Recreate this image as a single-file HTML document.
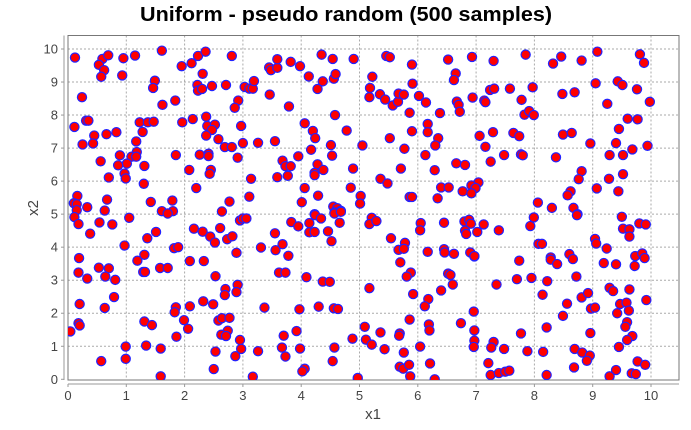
<!DOCTYPE html>
<html><head><meta charset="utf-8"><style>
html,body{margin:0;padding:0;background:#fff;}
svg{display:block;font-family:"Liberation Sans",sans-serif;}
</style></head><body>
<svg id="chart" width="691" height="430" viewBox="0 0 691 430" xmlns="http://www.w3.org/2000/svg">
<text x="346" y="21" text-anchor="middle" font-size="20" font-weight="bold" fill="#000" textLength="412" lengthAdjust="spacingAndGlyphs">Uniform - pseudo random (500 samples)</text>
<g id="grid"></g>
<rect x="68" y="35.5" width="611" height="344.5" fill="none" stroke="#777" stroke-width="1"/>
<g id="axes"></g>
<g id="points"></g>
<text x="373" y="419" text-anchor="middle" font-size="15" fill="#444">x1</text>
<text x="38" y="208" text-anchor="middle" font-size="15" fill="#444" transform="rotate(-90 38 208)">x2</text>
</svg>
<script>
const xTicks=[0,1,2,3,4,5,6,7,8,9,10];
const yTicks=[0,1,2,3,4,5,6,7,8,9,10];
const xs=[.12,.59,.69,.53,.62,.57,.95,1.15,1.61,.93,1.49,1.46,.24,1.62,1.84,1.95,2.12,2.23,2.36,2.31,2.81,2.22,2.23,2.30,2.47,2.71,3.03,3.11,3.17,3.19,2.92,2.86,.11,.31,.35,.45,.25,.43,.66,.83,1.23,1.37,1.47,1.28,1.17,1.96,2.14,2.37,2.39,2.52,2.47,2.37,2.58,2.69,2.81,2.97,3.0,3.26,2.91,.89,1.18,1.09,1.17,1.01,.86,1.31,.56,.97,.99,.70,1.30,1.85,2.26,2.41,2.41,2.08,2.45,2.43,2.20,3.14,3.11,2.77,2.64,.16,.10,.15,.15,.33,.67,.63,1.42,1.79,1.61,1.80,
3.45,3.48,3.59,3.59,3.82,3.98,4.35,4.54,4.90,5.46,5.52,5.90,6.52,6.93,4.13,4.37,4.56,4.59,4.28,5.22,5.91,6.65,6.62,3.46,3.79,5.18,5.17,5.35,5.44,5.57,5.66,5.67,5.76,6.02,6.14,6.67,6.70,6.72,6.94,4.58,4.06,4.20,4.24,4.78,5.86,6.38,6.17,6.17,5.90,5.52,6.35,6.30,3.55,4.51,5.05,4.17,5.77,3.95,4.53,3.68,3.73,3.82,4.28,4.38,4.23,4.23,3.59,3.77,4.89,5.71,6.13,6.29,6.66,6.81,5.36,5.48,4.06,4.85,4.29,5.02,5.01,4.01,4.55,4.62,4.68,4.57,4.23,5.86,5.90,6.34,6.40,6.53,6.77,
7.30,7.85,8.32,8.46,8.81,9.08,9.81,9.88,7.24,7.31,7.58,7.97,7.14,7.16,7.78,8.48,8.69,9.05,9.43,9.51,9.76,9.98,9.25,7.83,7.91,7.99,9.60,9.77,7.06,7.29,7.64,7.74,8.49,8.64,9.45,8.96,9.40,9.68,9.94,7.16,7.48,7.77,7.80,7.25,8.37,9.29,9.52,8.81,8.76,9.28,9.52,9.07,9.44,7.04,6.92,6.99,6.92,8.62,8.57,8.06,8.30,8.67,8.74,
.11,.18,.54,.76,1.05,.38,.97,1.36,1.51,1.71,2.16,2.31,2.44,2.52,2.61,2.73,2.82,2.95,3.0,3.06,2.89,3.31,1.82,1.89,.19,1.31,1.19,.18,.33,.53,.70,.64,.81,1.29,1.32,1.58,1.71,2.09,2.33,2.53,2.91,2.70,2.69,2.89,.20,.63,.79,1.85,1.83,2.09,2.32,2.49,3.37,.18,.20,.04,1.31,1.44,1.99,2.06,1.86,2.58,2.64,2.77,2.74,2.63,2.71,2.95,.99,1.34,1.59,.99,.57,2.53,2.97,2.87,3.26,2.50,1.59,3.17,
3.83,3.95,4.14,4.14,4.23,4.24,4.34,4.57,4.68,4.66,4.46,4.52,3.55,3.68,3.56,3.78,5.21,5.17,5.29,5.54,5.78,5.67,5.76,5.70,5.88,5.81,6.05,6.04,6.45,6.80,6.88,6.91,6.81,6.83,6.17,6.45,6.46,6.62,6.90,6.97,6.52,6.56,6.60,3.62,3.73,4.09,4.37,4.49,5.17,5.92,6.40,6.18,6.12,3.97,4.30,4.56,4.63,6.96,5.86,5.09,6.19,6.20,6.74,6.97,3.70,3.92,4.88,5.11,5.36,5.69,5.68,6.97,3.67,3.98,3.73,4.57,5.21,5.43,5.76,6.04,6.96,4.54,4.06,4.02,5.69,5.75,5.85,6.21,4.97,5.87,6.29,
7.13,7.02,7.39,7.93,7.99,8.73,9.50,9.52,9.63,9.63,9.80,9.91,9.04,9.06,9.24,8.07,8.13,6.97,7.74,8.28,8.28,8.39,8.60,8.66,9.19,9.40,9.73,9.85,9.89,9.72,7.35,7.70,7.95,8.22,8.72,8.14,8.56,8.81,8.92,8.97,9.04,8.49,9.29,9.35,9.63,9.92,9.47,9.58,9.62,9.42,8.21,7.77,8.96,9.59,9.56,9.68,9.59,7.30,7.26,7.48,7.88,8.15,8.69,8.82,8.95,8.90,9.45,7.21,8.68,9.77,9.90,7.25,7.39,7.50,7.57,8.21,9.40,9.29,9.67,9.74];
const ys=[9.74,9.70,9.81,9.52,9.36,9.16,9.72,9.80,9.95,9.20,9.04,8.82,8.54,8.31,8.44,9.48,9.57,9.79,9.92,9.25,9.79,8.91,8.74,8.79,8.88,8.91,8.85,8.80,8.80,9.03,8.44,8.22,7.64,7.83,7.83,7.38,7.11,7.14,7.42,7.48,7.78,7.78,7.80,7.49,7.20,7.78,7.88,7.95,7.67,7.71,7.55,7.38,7.27,7.03,7.03,7.67,7.15,7.16,6.71,6.78,6.88,6.74,6.74,6.53,6.48,6.46,6.60,6.23,6.08,6.11,5.92,6.79,6.80,6.83,6.76,6.34,6.34,6.22,5.79,6.07,5.53,5.38,5.08,5.55,5.33,5.30,5.12,5.21,5.44,5.11,5.37,5.41,5.09,5.09,
9.44,9.36,9.43,9.69,9.61,9.48,9.83,9.70,9.70,9.79,9.75,9.53,9.68,9.76,9.17,9.02,9.10,9.24,8.79,9.16,8.95,9.26,9.06,8.62,8.26,8.82,8.54,8.63,8.47,8.29,8.40,8.65,8.62,8.58,8.38,8.41,8.31,8.10,8.53,8.00,7.75,7.52,7.30,7.53,8.07,8.06,7.73,7.48,7.51,7.30,7.30,7.08,7.21,7.09,7.08,6.95,6.98,6.75,6.77,6.62,6.45,6.45,6.51,6.34,6.25,6.18,6.12,6.16,6.38,6.38,6.79,6.33,6.54,6.49,6.07,5.93,5.79,5.80,5.56,5.55,5.32,5.36,5.23,5.18,5.10,5.05,5.00,5.52,5.52,5.48,5.81,5.81,5.69,
9.64,9.83,9.56,9.77,9.65,9.92,9.84,9.58,8.76,8.80,8.80,8.84,8.44,8.39,8.46,8.64,8.69,8.96,9.02,8.91,8.78,8.40,8.34,8.01,8.12,8.00,7.89,7.87,7.37,7.48,7.46,7.36,7.41,7.46,7.58,7.14,7.15,6.96,7.07,7.04,6.79,6.81,6.78,6.59,6.72,6.79,6.79,6.30,6.06,6.07,6.21,5.78,5.69,5.96,5.87,5.79,5.63,5.69,5.57,5.35,5.19,5.19,5.00,
4.91,4.70,4.75,4.69,4.89,4.41,4.05,4.27,4.46,5.02,4.56,4.47,4.32,4.14,4.58,4.24,4.33,4.81,4.87,4.87,3.83,3.99,3.97,4.00,3.67,3.77,3.59,3.23,3.05,3.38,3.36,3.11,3.01,3.25,3.25,3.37,3.37,3.58,3.58,3.12,2.86,2.73,2.55,2.64,2.28,2.16,2.49,2.18,2.03,2.21,2.36,2.27,2.17,1.70,1.63,1.45,1.75,1.64,1.79,1.53,1.29,1.78,1.85,1.86,1.47,1.35,1.31,1.19,.99,1.02,.93,.62,.55,.84,.92,.70,.85,.31,.09,.08,
4.76,4.63,4.73,4.45,4.46,4.97,4.87,5.02,5.07,4.74,4.48,4.18,4.42,4.09,3.91,3.74,4.89,4.70,4.79,4.27,4.13,3.92,3.95,3.54,3.23,3.11,4.73,4.51,4.74,4.78,4.83,4.71,4.50,4.40,3.86,3.94,3.84,3.80,3.84,3.72,3.20,3.16,2.87,3.23,3.23,3.09,2.96,2.95,2.76,2.58,2.69,2.43,2.21,2.12,2.20,2.15,2.13,2.05,1.81,1.59,1.66,1.48,1.70,1.48,1.32,1.46,1.23,1.20,1.42,1.39,1.32,1.17,.96,.93,.69,.96,1.05,.91,.81,.99,.98,.55,.32,.24,.38,.32,.44,.48,.04,.09,.00,
4.69,4.46,4.51,4.64,4.90,4.97,4.92,4.56,4.54,4.32,4.72,4.69,4.25,4.11,3.96,4.10,4.10,3.73,3.59,3.69,3.62,3.49,3.79,3.64,3.52,3.48,3.73,3.81,3.67,3.43,2.87,3.03,3.07,2.97,3.11,2.56,2.29,2.48,2.61,2.14,2.17,1.92,2.77,2.67,2.72,2.40,2.28,2.32,2.08,2.00,1.57,1.39,1.40,1.73,1.59,1.31,1.19,1.13,.96,.92,.85,.83,.92,.81,.72,.56,.98,.49,.36,.54,.44,.13,.19,.23,.26,.13,.28,.09,.18,.16];

const NS='http://www.w3.org/2000/svg';
const L=68,R=679,T=35.5,B=380;
function sx(v){return 68+v*58.3;}
function sy(v){return 379.3-v*33.03;}
const grid=document.getElementById('grid');
const axes=document.getElementById('axes');
const pts=document.getElementById('points');
function mk(tag,attrs,parent){const e=document.createElementNS(NS,tag);for(const k in attrs)e.setAttribute(k,attrs[k]);parent.appendChild(e);return e;}
xTicks.forEach(t=>{
  const x=sx(t);
  if(t>0){const g=mk('line',{x1:x,x2:x,y1:T,y2:B,stroke:'#aaa','stroke-dasharray':'2,2','stroke-width':1},grid);
  
  }
  const tk=mk('line',{x1:x,x2:x,y1:384,y2:387,stroke:'#999'},axes);
  
  
  const lb=mk('text',{x:x,y:400,'text-anchor':'middle','font-size':13,fill:'#444'},axes);
  lb.textContent=t;
  
  
});
yTicks.forEach(t=>{
  const y=sy(t);
  if(t>0){const g=mk('line',{x1:L,x2:R,y1:y,y2:y,stroke:'#aaa','stroke-dasharray':'2,2','stroke-width':1},grid);
  
  }
  const tk=mk('line',{x1:61,x2:64,y1:y,y2:y,stroke:'#999'},axes);
  
  
  const lb=mk('text',{x:58,y:y+4.5,'text-anchor':'end','font-size':13,fill:'#444'},axes);
  lb.textContent=t;
  
  
});
const xa=mk('line',{x1:L,x2:R,y1:384,y2:384,stroke:'#999'},axes);


const ya=mk('line',{x1:64,x2:64,y1:T,y2:B,stroke:'#999'},axes);


const cp=mk('clipPath',{id:'clip'},document.getElementById('chart'));
mk('rect',{x:L,y:T,width:R-L,height:B-T},cp);
pts.setAttribute('clip-path','url(#clip)');
for(let i=0;i<xs.length;i++){
  const c=mk('circle',{cx:sx(xs[i]),cy:sy(ys[i]),r:4.6,fill:'#ff0000',stroke:'#2222ff','stroke-width':1.2},pts);
  
  
}
</script>
</body></html>
